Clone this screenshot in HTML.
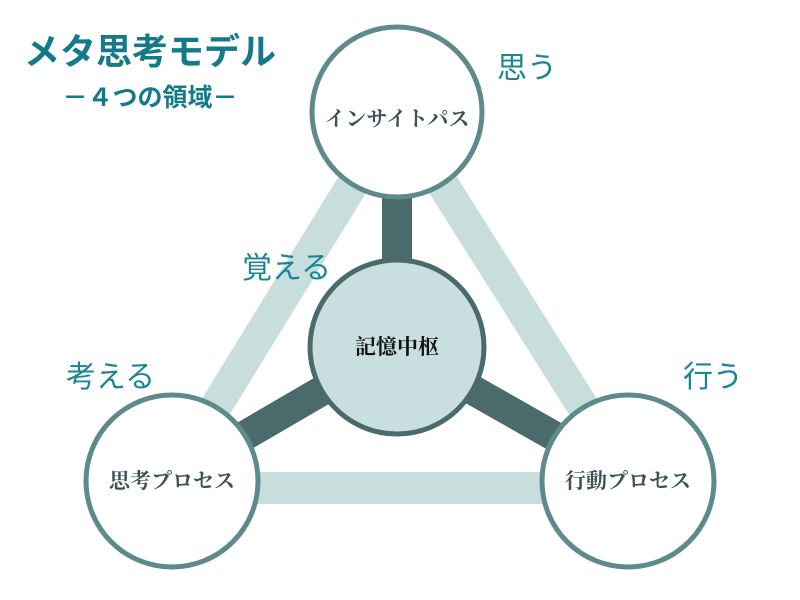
<!DOCTYPE html>
<html><head><meta charset="utf-8"><style>
body{margin:0;background:#fff}
svg{display:block}
</style></head><body>
<svg width="800" height="600" xmlns="http://www.w3.org/2000/svg">
<rect width="800" height="600" fill="#fff"/>
<g stroke="#c8dedd" stroke-width="32" stroke-linecap="butt">
<line x1="397" y1="112" x2="172" y2="478"/>
<line x1="397" y1="112" x2="628" y2="478"/>
<line x1="172" y1="488" x2="628" y2="488"/>
</g>
<g stroke="#4a6a6b" stroke-width="30">
<line x1="397" y1="112" x2="397" y2="347"/>
<line x1="397" y1="347" x2="172" y2="478"/>
<line x1="397" y1="347" x2="628" y2="478"/>
</g>
<g stroke="#5f8a8b" stroke-width="5" fill="#fff">
<circle cx="397" cy="112" r="85"/>
<circle cx="172" cy="481" r="86"/>
<circle cx="628" cy="481" r="86"/>
</g>
<circle cx="397" cy="347" r="87" fill="#c8dedf" stroke="#4a6a6b" stroke-width="5"/>
<g font-family="'Liberation Serif','Noto Serif CJK SC',serif" font-weight="bold" font-size="21" text-anchor="middle" fill="#3d5254">
<text x="397" y="126">インサイトパス</text>
<text x="172" y="488">思考プロセス</text>
<text x="628" y="488">行動プロセス</text>
<text x="397" y="354" fill="#111">記憶中枢</text>
</g>
<g font-family="'Liberation Sans','Noto Sans CJK JP',sans-serif" fill="#1a8595" font-size="30">
<text x="497" y="78">思う</text>
<text x="242" y="278">覚える</text>
<text x="66" y="387">考える</text>
<text x="683" y="387">行う</text>
</g>
<g font-family="'Liberation Sans','Noto Sans CJK JP',sans-serif" font-weight="bold" fill="#147a8a" text-anchor="middle">
<text x="150" y="64" font-size="36">メタ思考モデル</text>
<text x="150" y="106" font-size="25">－４つの領域－</text>
</g>
</svg>
</body></html>
